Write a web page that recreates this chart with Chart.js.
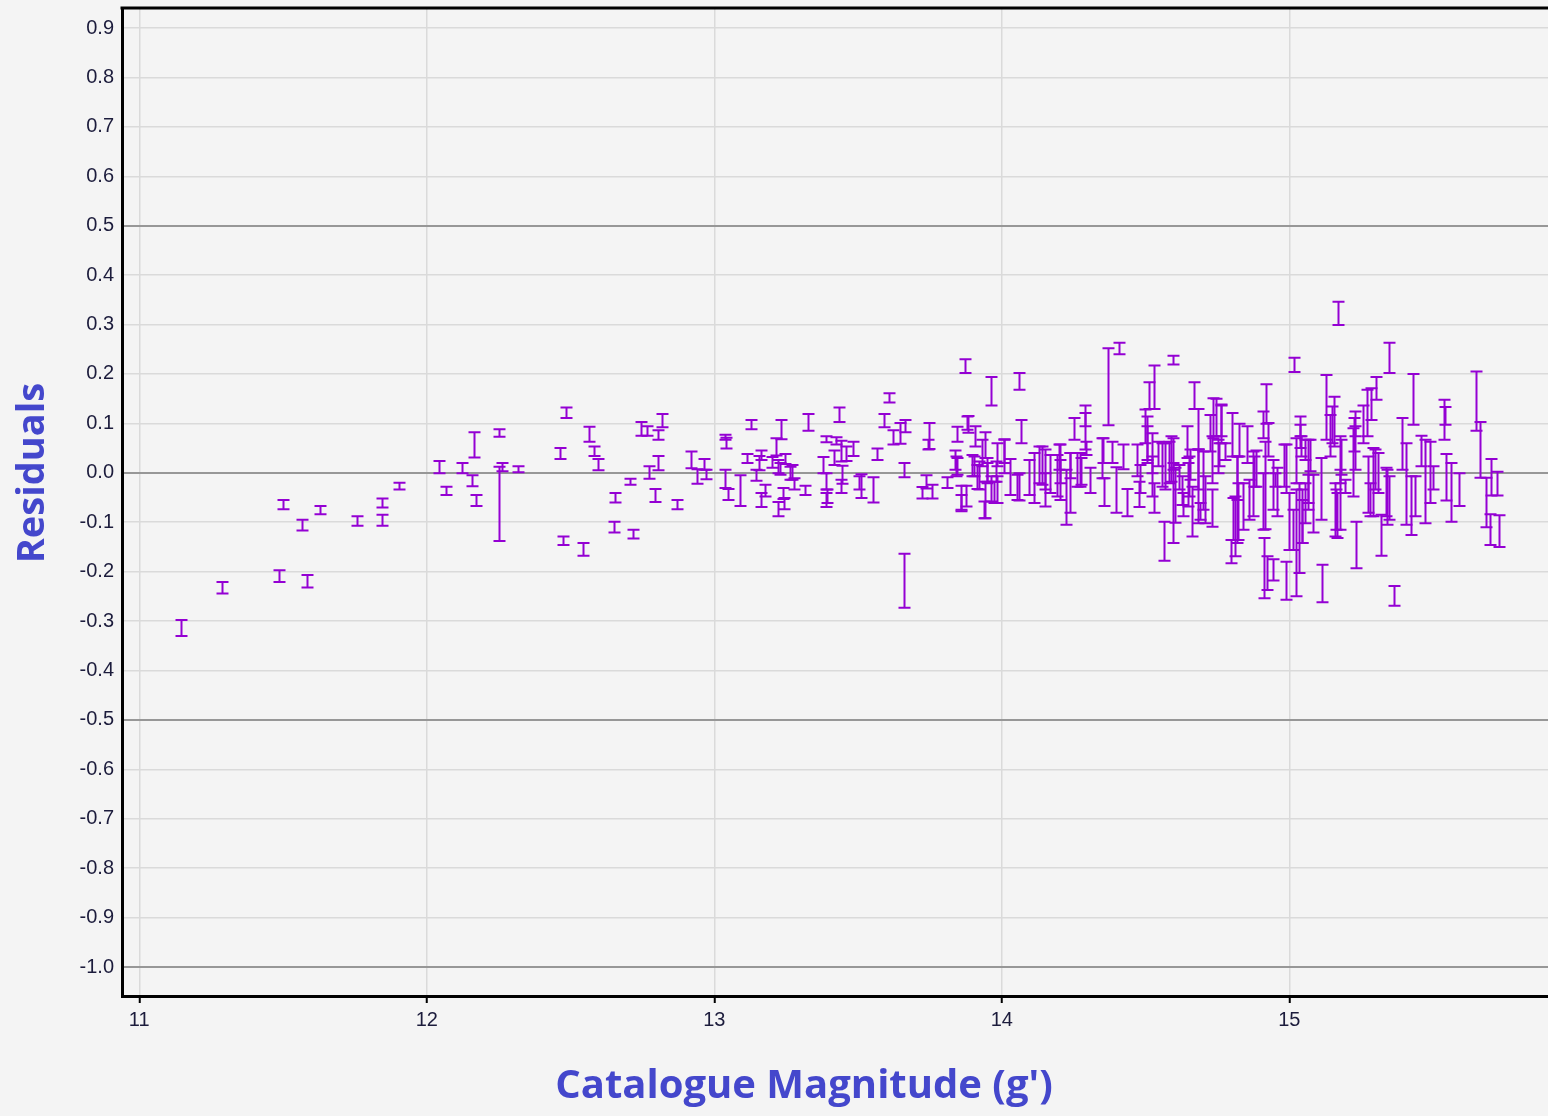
<!DOCTYPE html>
<html>
<head>
<meta charset="utf-8">
<script src="https://cdn.jsdelivr.net/npm/chart.js@4.4.0/dist/chart.umd.min.js"></script>
<style>
  html, body { margin: 0; padding: 0; background: #f4f4f4; }
  canvas { display: block; }
</style>
</head>
<body>
<canvas id="residChart" width="1548" height="1116"></canvas>
<script>
// catalogue magnitude of each star, with the top and bottom of its residual error bar
const magnitude = [
  11.145, 11.288, 11.487, 11.499, 11.565, 11.582, 11.628, 11.756, 11.846, 11.846, 11.902,
  12.043, 12.068, 12.123, 12.157, 12.166, 12.171, 12.250, 12.253, 12.261, 12.317,
  12.462, 12.473, 12.485, 12.543, 12.564, 12.583, 12.596, 12.653, 12.654, 12.707, 12.716,
  12.745, 12.765, 12.774, 12.793, 12.803, 12.803, 12.818, 12.870, 12.919, 12.940, 12.965, 12.973,
  13.038, 13.040, 13.037, 13.049, 13.089, 13.115, 13.128, 13.144, 13.156, 13.161, 13.162, 13.175,
  13.202, 13.214, 13.221, 13.221, 13.228, 13.233, 13.240, 13.243, 13.245, 13.265, 13.272, 13.279,
  13.316, 13.326, 13.378, 13.388, 13.390, 13.390, 13.391, 13.417, 13.423, 13.434, 13.440, 13.442,
  13.443, 13.457, 13.484, 13.503, 13.509, 13.553, 13.567, 13.590, 13.608, 13.622, 13.646, 13.659,
  13.660, 13.662, 13.723, 13.735, 13.743, 13.747, 13.758, 13.810, 13.839, 13.842, 13.845, 13.857,
  13.873, 13.876, 13.880, 13.903, 13.908, 13.920, 13.938, 13.941, 13.949, 13.963, 13.972, 13.984,
  14.007, 14.030, 14.059, 14.059, 14.068, 14.111, 14.140, 14.151, 14.198, 14.204, 14.225, 14.239,
  14.250, 14.273, 14.290, 14.293, 14.308, 14.348, 14.354, 14.369, 14.383, 14.397, 14.408, 14.421,
  14.435, 14.470, 14.476, 14.499, 14.504, 14.513, 14.522, 14.528, 14.531, 14.545, 14.563, 14.567,
  14.589, 14.597, 14.597, 14.628, 14.643, 14.649, 14.655, 14.661, 14.667, 14.684, 14.684, 14.690,
  14.707, 14.724, 14.730, 14.736, 14.745, 14.756, 14.763, 14.775, 14.796, 14.802, 14.806, 14.818,
  14.823, 14.826, 14.840, 14.852, 14.860, 14.878, 14.884, 14.910, 14.913, 14.915, 14.920, 14.921,
  14.942, 14.942, 14.950, 14.959, 14.987, 14.988, 14.999, 15.014, 15.015, 15.025, 15.025, 15.033,
  15.037, 15.042, 15.043, 15.054, 15.054, 15.066, 15.071, 15.083, 15.112, 15.113, 15.128, 15.141,
  15.149, 15.155, 15.158, 15.164, 15.167, 15.170, 15.176, 15.181, 15.222, 15.225, 15.228, 15.233,
  15.257, 15.271, 15.274, 15.282, 15.286, 15.297, 15.303, 15.309, 15.320, 15.341, 15.346, 15.346,
  15.363, 15.392, 15.407, 15.425, 15.431, 15.438, 15.459, 15.471, 15.488, 15.500, 15.538, 15.541,
  15.544, 15.561, 15.589, 15.648, 15.665, 15.685, 15.700, 15.702, 15.724, 15.728,
  // crowded part of the field
  13.845, 13.857, 13.883, 13.897, 13.914, 13.931, 13.941, 13.949, 13.961, 13.979, 13.984,
  14.007, 14.053, 14.094, 14.128, 14.149, 14.168, 14.191, 14.203, 14.239, 14.262, 14.276,
  14.290, 14.351, 14.481, 14.504, 14.522, 14.557, 14.583, 14.597, 14.601, 14.618, 14.632,
  14.653, 14.684, 14.701, 14.730, 14.751, 14.763, 14.811, 14.817, 14.873, 14.910, 14.927,
  14.982, 15.037, 15.043, 15.066, 15.177, 15.194, 15.228, 15.290, 15.335
];
const residualHigh = [
  -0.298, -0.221, -0.197, -0.055, -0.095, -0.207, -0.067, -0.088, -0.052, -0.085, -0.020,
  0.024, -0.028, 0.020, -0.005, 0.082, -0.045, 0.088, 0.012, 0.020, 0.013,
  0.050, -0.129, 0.132, -0.142, 0.093, 0.053, 0.028, -0.099, -0.041, -0.012, -0.115,
  0.103, 0.094, 0.013, -0.033, 0.086, 0.034, 0.119, -0.055, 0.043, 0.007, 0.028, 0.006,
  0.077, 0.071, 0.006, -0.033, -0.005, 0.038, 0.107, 0.006, 0.034, -0.041, 0.045, -0.024,
  0.032, 0.070, 0.026, -0.059, 0.020, 0.107, -0.031, -0.051, 0.038, 0.012, 0.016, -0.011,
  -0.026, 0.119, 0.032, 0.074, -0.001, -0.041, -0.034, 0.045, 0.072, 0.132, -0.014, 0.065,
  0.014, 0.053, 0.063, -0.007, -0.003, -0.009, 0.049, 0.119, 0.161, 0.086, 0.101, 0.020,
  -0.164, 0.107, -0.029, -0.005, 0.067, 0.101, -0.024, -0.009, 0.045, 0.033, 0.093, -0.045,
  0.230, -0.026, 0.114, 0.033, 0.094, 0.023, -0.058, 0.082, 0.020, 0.194, -0.018, 0.060,
  0.068, 0.028, 0.202, -0.001, 0.107, 0.040, 0.053, -0.001, 0.057, 0.026, 0.006, 0.040,
  0.111, 0.040, 0.136, 0.063, 0.010, 0.070, -0.011, 0.252, 0.063, 0.011, 0.263, 0.057,
  -0.033, 0.057, -0.018, 0.128, 0.094, 0.183, 0.033, -0.021, 0.217, 0.063, -0.099, 0.060,
  0.074, 0.237, 0.020, -0.007, 0.094, 0.020, 0.047, -0.028, 0.183, 0.129, 0.047, -0.061,
  -0.007, 0.117, -0.034, 0.151, 0.150, 0.060, 0.136, 0.060, -0.136, 0.121, -0.051, 0.033,
  -0.021, 0.099, -0.021, 0.094, -0.014, 0.033, 0.045, 0.124, -0.132, 0.063, 0.179, -0.169,
  -0.175, 0.026, -0.001, 0.010, 0.057, -0.180, -0.041, -0.075, 0.233, 0.070, -0.034, -0.021,
  0.114, 0.074, -0.034, 0.067, -0.021, -0.004, 0.067, -0.004, 0.030, -0.186, 0.198, 0.117,
  0.134, 0.154, -0.021, -0.034, -0.041, 0.346, 0.074, 0.067, 0.090, 0.111, 0.124, -0.099,
  0.136, 0.168, 0.033, -0.021, 0.171, 0.047, 0.194, 0.040, -0.085, 0.006, 0.263, -0.007,
  -0.229, 0.111, 0.060, -0.007, 0.200, -0.007, 0.075, 0.067, 0.063, 0.013, 0.148, 0.133,
  0.038, 0.020, -0.001, 0.205, 0.103, -0.010, -0.084, 0.028, 0.002, -0.086,
  0.030, -0.026, 0.115, 0.036, 0.016, 0.067, -0.018, 0.030, -0.007, 0.023, -0.007,
  0.067, -0.004, 0.026, 0.053, 0.047, 0.036, 0.036, 0.057, 0.040, 0.040, 0.030,
  0.121, 0.070, 0.016, 0.114, 0.080, 0.060, 0.063, 0.070, 0.010, 0.016, -0.041,
  0.033, 0.047, 0.043, 0.074, 0.067, 0.138, -0.048, 0.033, 0.043, -0.001, 0.101,
  0.057, 0.097, -0.055, 0.067, 0.006, -0.014, 0.094, 0.050, 0.010
];
const residualLow = [
  -0.330, -0.244, -0.221, -0.074, -0.117, -0.232, -0.084, -0.107, -0.070, -0.107, -0.034,
  -0.001, -0.045, -0.001, -0.027, 0.031, -0.067, 0.073, -0.138, 0.003, 0.001,
  0.028, -0.146, 0.111, -0.168, 0.063, 0.034, 0.005, -0.121, -0.060, -0.024, -0.133,
  0.075, 0.075, -0.012, -0.059, 0.067, 0.005, 0.092, -0.074, 0.009, -0.022, 0.006, -0.013,
  0.067, 0.049, -0.031, -0.055, -0.067, 0.020, 0.088, -0.016, 0.005, -0.069, 0.026, -0.048,
  0.010, 0.035, -0.001, -0.088, -0.004, 0.068, -0.053, -0.074, 0.018, -0.014, -0.014, -0.034,
  -0.045, 0.085, -0.001, 0.062, -0.034, -0.069, -0.061, 0.016, 0.057, 0.103, -0.041, 0.023,
  -0.022, 0.024, 0.034, -0.034, -0.051, -0.060, 0.026, 0.092, 0.142, 0.057, 0.059, -0.009,
  -0.273, 0.082, -0.052, -0.032, 0.047, 0.048, -0.052, -0.031, 0.006, -0.007, 0.063, -0.078,
  0.202, -0.068, 0.087, -0.007, 0.053, -0.034, -0.092, 0.030, -0.018, 0.136, -0.061, 0.013,
  -0.001, -0.045, 0.168, -0.056, 0.060, -0.061, -0.024, -0.068, 0.006, -0.055, -0.105, -0.011,
  0.067, -0.028, 0.094, 0.036, -0.041, -0.011, -0.067, 0.096, 0.020, -0.081, 0.240, 0.007,
  -0.088, -0.007, -0.069, 0.060, 0.026, 0.129, -0.048, -0.081, 0.129, 0.013, -0.178, -0.034,
  -0.018, 0.219, -0.142, -0.065, 0.030, -0.068, -0.014, -0.129, 0.129, 0.047, -0.102, -0.095,
  -0.102, 0.043, -0.109, 0.070, 0.074, 0.013, 0.074, 0.026, -0.183, 0.033, -0.136, -0.142,
  -0.136, 0.033, -0.115, 0.020, -0.095, -0.028, -0.028, 0.070, -0.254, -0.114, 0.099, -0.237,
  -0.218, -0.075, -0.028, -0.088, -0.041, -0.257, -0.156, -0.156, 0.204, -0.021, -0.250, -0.203,
  0.074, 0.033, -0.142, 0.026, -0.102, -0.075, 0.003, -0.121, -0.095, -0.262, 0.067, 0.033,
  0.060, 0.053, -0.129, -0.115, -0.132, 0.299, -0.021, -0.004, -0.048, 0.043, 0.006, -0.193,
  0.060, 0.074, -0.081, -0.088, 0.107, -0.034, 0.148, -0.041, -0.168, -0.105, 0.202, -0.095,
  -0.269, 0.006, -0.105, -0.126, 0.097, -0.088, 0.013, -0.102, -0.061, -0.034, 0.067, 0.097,
  -0.056, -0.099, -0.067, 0.085, -0.010, -0.110, -0.146, -0.046, -0.046, -0.150,
  -0.004, -0.075, 0.081, -0.007, -0.033, 0.013, -0.092, -0.021, -0.058, -0.018, -0.061,
  0.020, -0.055, -0.045, -0.021, -0.034, -0.041, -0.048, -0.021, -0.081, -0.028, -0.024,
  0.047, 0.020, -0.041, 0.020, -0.001, -0.028, -0.021, 0.006, -0.101, -0.034, -0.088,
  -0.048, -0.034, -0.075, -0.021, -0.001, 0.060, -0.169, -0.055, -0.088, -0.115, 0.033,
  -0.028, 0.050, -0.142, -0.061, -0.115, -0.041, 0.074, -0.088, -0.088
];

const xTicks = [11, 12, 13, 14, 15];
const yTicks = [-1.0, -0.9, -0.8, -0.7, -0.6, -0.5, -0.4, -0.3, -0.2, -0.1, 0.0,
                0.1, 0.2, 0.3, 0.4, 0.5, 0.6, 0.7, 0.8, 0.9];

const barColor = '#9400d3';
const titleColor = '#4447cc';
const tickColor = '#1c1c3c';

const points = magnitude.map((m, i) => ({
  x: m,
  y: (residualHigh[i] + residualLow[i]) / 2,
  yMin: residualLow[i],
  yMax: residualHigh[i]
}));

// draws the error bars (vertical line + caps) through the chart's scales
const errorBars = {
  id: 'errorBars',
  afterDatasetsDraw(chart) {
    const ctx = chart.ctx;
    const yScale = chart.scales.y;
    const area = chart.chartArea;
    const meta = chart.getDatasetMeta(0);
    ctx.save();
    ctx.beginPath();
    ctx.rect(area.left, area.top, area.right - area.left, area.bottom - area.top);
    ctx.clip();
    ctx.strokeStyle = barColor;
    ctx.lineWidth = 2;
    meta.data.forEach((el, i) => {
      const raw = chart.data.datasets[0].data[i];
      const x = Math.round(el.x) + 0.5;
      const yTop = yScale.getPixelForValue(raw.yMax);
      const yBot = yScale.getPixelForValue(raw.yMin);
      ctx.beginPath();
      ctx.moveTo(x, yTop);
      ctx.lineTo(x, yBot);
      ctx.moveTo(x - 6, yTop);
      ctx.lineTo(x + 6, yTop);
      ctx.moveTo(x - 6, yBot);
      ctx.lineTo(x + 6, yBot);
      ctx.stroke();
    });
    ctx.restore();
  }
};

// black frame line along the top of the plot, and the two axis titles
const frameAndTitles = {
  id: 'frameAndTitles',
  afterDraw(chart) {
    const ctx = chart.ctx;
    const area = chart.chartArea;
    ctx.save();
    ctx.strokeStyle = '#000';
    ctx.lineWidth = 3;
    ctx.beginPath();
    ctx.moveTo(area.left - 1.5, area.top);
    ctx.lineTo(area.right, area.top);
    ctx.stroke();

    ctx.fillStyle = titleColor;
    ctx.textAlign = 'center';
    ctx.textBaseline = 'middle';
    ctx.font = 'bold 40px "Open Sans"';
    ctx.fillText("Catalogue Magnitude (g')", 804, 1087);

    ctx.translate(33, 473);
    ctx.rotate(-Math.PI / 2);
    ctx.font = 'bold 38px "Open Sans"';
    ctx.fillText('Residuals', 0, 0);
    ctx.restore();
  }
};

function isMajor(v) {
  return Math.abs(Math.round(v * 10)) % 5 === 0;
}

new Chart(document.getElementById('residChart'), {
  type: 'scatter',
  data: {
    datasets: [{
      data: points,
      pointRadius: 0,
      pointHoverRadius: 0,
      showLine: false
    }]
  },
  options: {
    responsive: false,
    animation: false,
    layout: { padding: { top: 8, left: 0, right: 0, bottom: 0 } },
    plugins: {
      legend: { display: false },
      tooltip: { enabled: false }
    },
    scales: {
      x: {
        type: 'linear',
        min: 10.94,
        max: 15.9,
        afterFit(scale) {
          scale.height = 120;
          scale.paddingLeft = 0;
          scale.paddingRight = 0;
        },
        afterBuildTicks(scale) { scale.ticks = xTicks.map(v => ({ value: v })); },
        border: { color: '#000', width: 3 },
        grid: {
          color: '#dadada',
          lineWidth: 1.5,
          drawTicks: true,
          tickLength: 7,
          tickColor: '#000',
          tickWidth: 2
        },
        ticks: {
          color: tickColor,
          font: { family: '"Liberation Sans", Arial, sans-serif', size: 20 },
          padding: 5,
          maxRotation: 0,
          callback: v => String(v)
        }
      },
      y: {
        type: 'linear',
        min: -1.0587,
        max: 0.9405,
        afterFit(scale) {
          scale.width = 122;
          scale.paddingTop = 0;
          scale.paddingBottom = 0;
        },
        afterBuildTicks(scale) { scale.ticks = yTicks.map(v => ({ value: v })); },
        border: { color: '#000', width: 3 },
        grid: {
          color: ctx => isMajor(ctx.tick.value) ? '#979797' : '#dadada',
          lineWidth: ctx => isMajor(ctx.tick.value) ? 2 : 1.5,
          drawTicks: false
        },
        ticks: {
          color: tickColor,
          font: { family: '"Liberation Sans", Arial, sans-serif', size: 20 },
          padding: 8,
          callback: v => v.toFixed(1)
        }
      }
    }
  },
  plugins: [errorBars, frameAndTitles]
});
</script>
</body>
</html>
